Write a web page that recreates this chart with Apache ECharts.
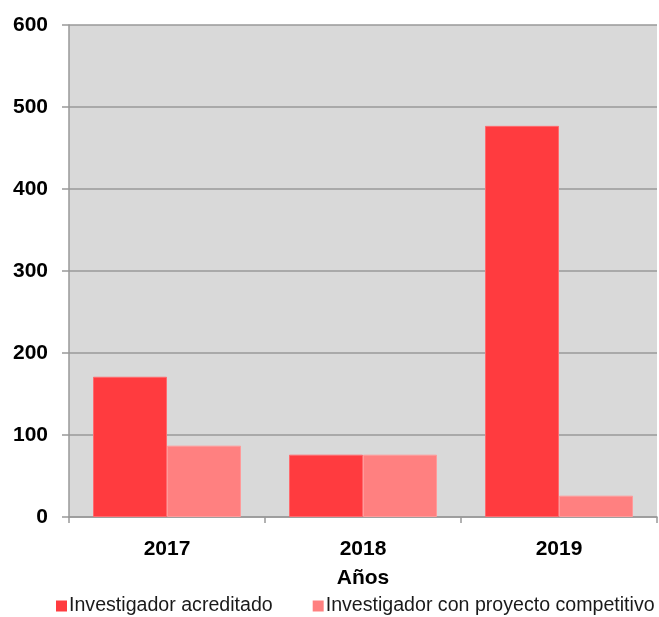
<!DOCTYPE html>
<html>
<head>
<meta charset="utf-8">
<script src="https://cdn.jsdelivr.net/npm/echarts@6/dist/echarts.min.js"></script>
<style>
  html, body { margin: 0; padding: 0; background: #fff; }
  #main { width: 659px; height: 617px; }
</style>
</head>
<body>
<div id="main"></div>
<script>
// datos
const years = ['2017', '2018', '2019'];
const acreditado = [171, 76, 477];
const competitivo = [87, 76, 26];
const yTicks = [0, 100, 200, 300, 400, 500, 600];

const chart = echarts.init(document.getElementById('main'));
const font = 'Liberation Sans, Arial, sans-serif';

chart.setOption({
    animation: false,
    grid: { left: 69, right: 2, top: 25, bottom: 100, backgroundColor: '#D9D9D9', show: true, borderWidth: 0 },
    legend: {
        top: 591,
        left: 51,
        width: 640,
        padding: [5, 0, 5, 5],
        itemWidth: 11,
        itemHeight: 11,
        itemGap: 40,
        icon: 'rect',
        itemStyle: { borderWidth: 0 },
        textStyle: { fontFamily: font, fontSize: 19.6, color: '#1a1a1a', padding: [0, 0, 0, -3] },
        data: ['Investigador acreditado', 'Investigador con proyecto competitivo']
    },
    xAxis: {
        type: 'category',
        data: years,
        name: 'Años',
        nameLocation: 'middle',
        nameGap: 51,
        nameTextStyle: { fontFamily: font, fontSize: 21, fontWeight: 'bold', color: '#000' },
        axisLine: { lineStyle: { color: '#999', width: 1.5 } },
        axisTick: { show: true, length: 6, lineStyle: { color: '#999', width: 1.5 } },
        axisLabel: { fontFamily: font, fontSize: 21, fontWeight: 'bold', color: '#000', margin: 22 }
    },
    yAxis: {
        type: 'value',
        min: yTicks[0],
        max: yTicks[yTicks.length - 1],
        interval: 100,
        axisLine: { show: true, lineStyle: { color: '#999', width: 1.5 } },
        axisTick: { show: true, length: 7, lineStyle: { color: '#999', width: 1.5 } },
        splitLine: { lineStyle: { color: '#999', width: 1.5 } },
        axisLabel: { fontFamily: font, fontSize: 21, fontWeight: 'bold', color: '#000', margin: 21 }
    },
    series: [
        {
            name: 'Investigador acreditado',
            type: 'bar',
            data: acreditado,
            barWidth: 74,
            barGap: '0%',
            itemStyle: { color: '#FF3B3F', borderColor: '#FF6A6E', borderWidth: 1 }
        },
        {
            name: 'Investigador con proyecto competitivo',
            type: 'bar',
            data: competitivo,
            barWidth: 74,
            barGap: '0%',
            itemStyle: { color: '#FF8080', borderColor: '#FF9A9A', borderWidth: 1 }
        }
    ]
});
</script>
</body>
</html>
